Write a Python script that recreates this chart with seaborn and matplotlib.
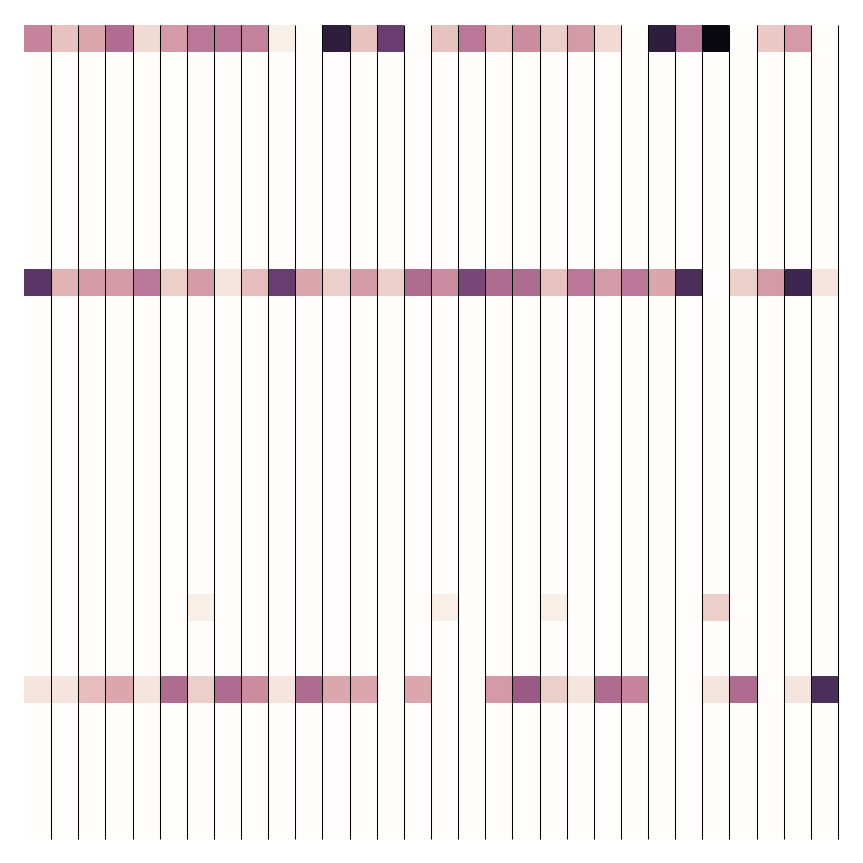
import numpy as np
import pandas as pd
import matplotlib
matplotlib.use("Agg")
import matplotlib.pyplot as plt
import seaborn as sns

n_rows = 30
n_cols = 30

row0 = [0.39, 0.19, 0.275, 0.47, 0.115, 0.315, 0.435, 0.435, 0.40, 0.05,
        0.0, 0.845, 0.19, 0.68, 0.0, 0.19, 0.435, 0.19, 0.365, 0.15,
        0.315, 0.115, 0.0, 0.845, 0.435, 0.955, 0.0, 0.165, 0.315, 0.0]
row9 = [0.715, 0.235, 0.315, 0.315, 0.435, 0.15, 0.315, 0.08, 0.205, 0.68,
        0.275, 0.15, 0.315, 0.15, 0.48, 0.365, 0.64, 0.48, 0.48, 0.19,
        0.435, 0.315, 0.435, 0.275, 0.76, 0.0, 0.15, 0.315, 0.80, 0.08]
row21_cells = {6: 0.05, 15: 0.05, 19: 0.05, 25: 0.15}
row24 = [0.08, 0.08, 0.205, 0.275, 0.08, 0.48, 0.15, 0.48, 0.365, 0.08,
         0.48, 0.275, 0.275, 0.0, 0.275, 0.0, 0.0, 0.315, 0.55, 0.15,
         0.08, 0.48, 0.39, 0.0, 0.0, 0.08, 0.48, 0.0, 0.08, 0.76]

data = np.zeros((n_rows, n_cols))
data[0] = row0
data[9] = row9
for c, v in row21_cells.items():
    data[21, c] = v
data[24] = row24

df = pd.DataFrame(data)

fig = plt.figure(figsize=(8.63, 8.63), dpi=100)
ax = fig.add_axes([24 / 863, 24.5 / 863, 814 / 863, 814 / 863])
cmap = sns.cubehelix_palette(light=0.99, dark=0.0, as_cmap=True)
sns.heatmap(df, ax=ax, cmap=cmap, vmin=0, vmax=1, cbar=False,
            xticklabels=False, yticklabels=False)
ax.vlines(np.arange(1, n_cols + 1), 0, n_rows, colors="black",
          linewidth=0.75, clip_on=False)
ax.set_xlabel("")
ax.set_ylabel("")
fig.savefig("out.png", dpi=100)
